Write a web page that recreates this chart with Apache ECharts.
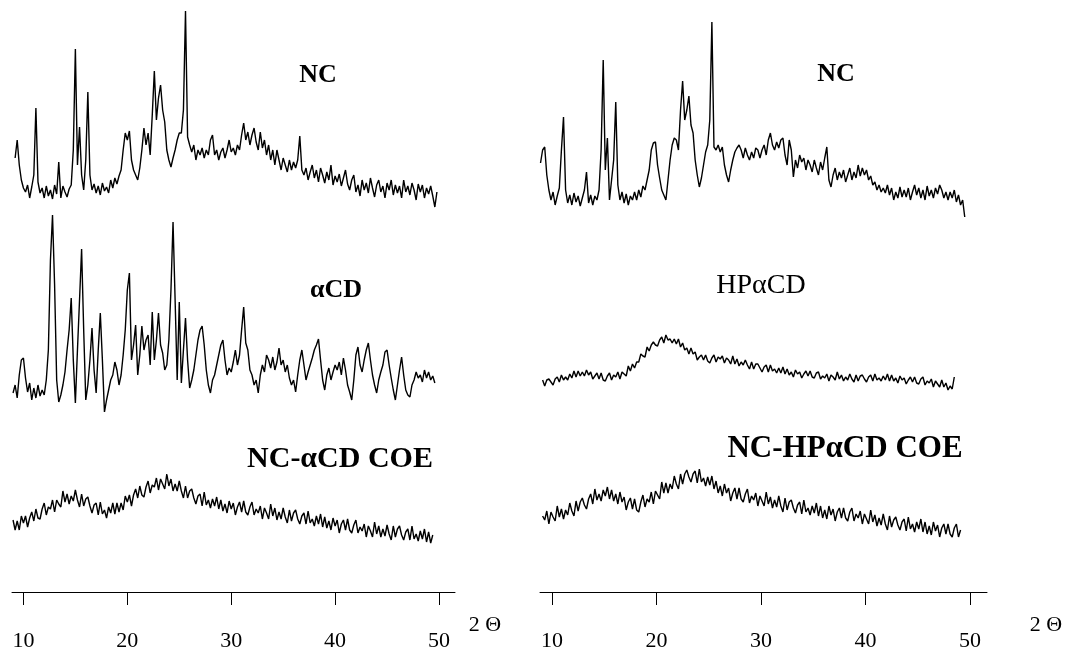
<!DOCTYPE html>
<html>
<head>
<meta charset="utf-8">
<script src="https://cdn.jsdelivr.net/npm/echarts@6/dist/echarts.min.js"></script>
<style>html,body{margin:0;padding:0;background:#fff}#c{width:1065px;height:654px}</style>
</head>
<body>
<div id="c"></div>
<script>
// ---- data (intensity in arbitrary offset units, 2θ sampled every 0.2°) ----
const STEP = 0.2;
const tickValues = [10, 20, 30, 40, 50];
const axisName = '2 Θ';
const labelNames = ['NC', 'αCD', 'NC-αCD COE', 'NC', 'HPαCD', 'NC-HPαCD COE'];

const leftNCStart = 9.2;
const leftNC = [
442,460,435,420,412, 408,415,402,413,425, 492,418,407,412,402, 414,404,410,401,415,
406,438,402,414,408, 403,411,415,450,551, 435,473,425,410,440, 508,425,410,416,407,
414,405,417,409,413, 407,420,412,422,416, 424,430,450,467,460, 469,440,430,425,420,
432,450,472,455,467, 445,485,529,480,502, 515,490,478,450,440, 433,442,450,460,467,
467,490,589,463,455, 448,455,440,450,445, 452,442,450,445,460, 465,445,450,440,448,
452,442,450,460,448, 452,445,455,450,465, 477,460,468,455,465, 472,458,450,468,452,
460,445,455,440,450, 435,450,440,430,442, 435,428,440,430,438, 432,440,464,430,425,
432,420,428,435,422, 430,418,432,425,417, 428,420,435,415,424, 418,426,414,422,430,
416,410,420,425,408, 415,404,420,410,417, 407,422,412,403,415, 420,408,414,402,417,
410,420,405,415,407, 414,402,420,408,414, 405,417,410,400,416, 408,415,402,412,406,
414,404,393,408
];

const leftACDStart = 9.0;
const leftACD = [
207,215,202,225,240, 242,222,208,217,200, 212,202,215,204,210, 205,220,250,340,385,
315,220,198,205,215, 228,250,270,302,240, 197,250,300,351,270, 200,215,240,272,230,
207,250,287,240,188, 200,210,220,225,238, 230,215,225,245,270, 310,327,240,255,275,
225,245,274,250,260, 265,235,288,240,260, 287,255,247,230,235, 260,310,378,300,220,
298,217,250,282,240, 212,220,230,245,260, 270,274,255,230,215, 207,220,225,235,245,
255,260,240,225,232, 228,238,250,235,245, 270,293,257,250,230, 225,215,220,207,225,
235,228,245,240,232, 243,230,238,252,235, 240,228,235,222,215, 220,208,225,240,250,
235,220,228,235,242, 250,255,261,240,220, 210,225,232,220,228, 235,230,238,225,242,
230,215,208,200,220, 245,253,235,228,240, 250,257,240,225,215, 207,220,228,235,248,
250,235,222,210,200, 215,230,243,225,210, 205,203,215,220,228, 222,225,218,230,222,
228,220,224,217
];

const leftCOEStart = 9.0;
const leftCOE = [
80,70,79,70,84, 77,84,73,82,88, 79,91,82,81,91, 97,85,93,91,100, 88,100,96,93,109,
98,106,96,104,99, 110,100,93,106,94, 101,103,94,87,95, 97,85,98,86,90, 82,93,87,97,86,
97,88,97,90,104, 98,105,94,105,111, 102,114,105,103,113, 119,107,115,113,122, 110,121,116,111,126,
114,121,109,116,109, 119,109,102,114,102, 109,111,102,96,104, 106,94,108,95,100, 92,101,94,103,91,
100,89,96,87,99, 91,97,85,93,98, 88,99,88,85,93, 98,85,91,87,94, 81,92,87,81,96,
84,92,80,88,81, 92,83,77,90,79, 87,90,81,76,84, 87,76,89,77,81, 74,84,76,86,73,
83,72,79,70,82, 74,80,67,76,80, 70,81,70,67,75, 80,67,73,69,76, 63,74,69,63,78,
66,74,63,71,64, 75,66,60,74,63, 71,74,65,60,68, 71,60,74,61,66, 59,69,61,71,58,
68,57,65
];

const rightNCStart = 8.9;
const rightNC = [
437,450,453,425,410, 400,408,395,404,412, 450,483,410,397,405, 395,407,398,404,394,
402,410,428,397,405, 395,404,400,410,450, 540,430,462,400,420, 440,498,415,400,408,
397,406,395,404,400, 408,400,410,403,414, 410,420,430,450,457, 458,435,422,410,405,
400,420,440,455,462, 460,450,490,519,480, 490,504,475,467,440, 425,413,422,435,448,
455,480,578,453,450, 455,448,453,435,425, 418,430,440,448,452, 455,450,442,452,445,
440,448,442,452,450, 442,450,455,445,460, 467,455,450,458,452, 460,462,445,435,460,
450,423,440,432,445, 438,442,430,440,435, 428,440,432,425,438, 430,442,453,420,413,
425,432,420,428,422, 430,418,425,432,420, 428,422,435,424,432, 425,430,420,424,415,
418,410,415,408,412, 407,415,405,412,400, 408,402,413,403,410, 403,412,400,408,415,
405,412,402,410,400, 414,404,410,402,412, 406,415,410,402,408, 400,408,402,410,398,
405,395,400,383
];

const rightHPACDStart = 9.1;
const rightHPACD = [
220,214,220,221,218, 215,221,223,218,225, 220,223,220,226,222, 229,223,229,224,228,
224,230,225,228,221, 224,227,221,227,220, 219,224,227,220,225, 223,228,221,228,226,
224,234,229,236,232, 238,238,246,244,243, 253,249,255,258,255, 254,260,263,257,265,
260,261,257,261,256, 261,253,257,250,252, 246,252,246,248,240, 243,245,240,245,239,
237,242,245,238,243, 241,244,237,242,240, 236,244,236,241,234, 238,235,240,235,231,
238,231,236,236,232, 228,233,235,228,235, 229,231,227,232,227, 233,226,231,225,228,
223,230,226,228,222, 226,229,224,229,223, 222,227,228,221,224, 222,226,219,225,223,
220,228,221,225,219, 223,220,226,221,218, 225,219,224,225,221, 218,223,225,219,226,
220,222,219,224,220, 226,219,225,219,222, 217,224,220,222,216, 220,223,218,223,217,
216,221,223,215,219, 217,221,213,219,216, 213,220,213,217,210, 214,211,223
];

const rightCOEStart = 9.1;
const rightCOE = [
84,80,89,76,88, 83,79,94,83,91, 81,90,85,97,89, 84,99,89,98,102, 95,91,101,106,96,
111,100,106,99,110, 104,113,101,110,99, 106,96,108,98,103, 90,98,102,91,101, 90,88,98,105,93,
101,98,108,96,109, 105,101,118,107,117, 107,116,111,124,116, 111,126,116,126,130, 123,118,126,129,117,
131,118,122,114,123, 115,124,111,119,107, 114,104,116,107,112, 99,107,112,101,112, 101,98,106,111,97,
104,100,107,94,104, 99,94,108,96,103, 92,100,93,104,94, 88,102,90,98,100, 92,87,95,98,86,
100,88,92,85,94, 87,97,84,94,82, 90,81,94,85,91, 79,88,92,82,92, 82,79,88,92,79,
86,82,89,76,86, 81,76,90,78,85, 74,82,75,86,76, 70,84,73,80,83, 75,70,78,81,69,
83,71,76,68,78, 71,81,68,78,66, 74,65,78,69,75, 63,72,76,66,76, 66,63,72,76,63,
70
];

// ---- build ----
function pairs(start, vals) {
  return vals.map((v, i) => [+(start + i * STEP).toFixed(2), v]);
}
const serif = 'Liberation Serif, "Times New Roman", serif';

function xAxisFor(grid, min, max) {
  return {
    type: 'value', gridIndex: grid, min: min, max: max,
    axisLine: { show: true, onZero: false, lineStyle: { color: '#000', width: 1 } },
    axisTick: { show: true, customValues: tickValues, length: 13, inside: false, lineStyle: { color: '#000', width: 1 } },
    axisLabel: { show: true, customValues: tickValues, color: '#000', fontFamily: serif, fontSize: 22, margin: 38 },
    splitLine: { show: false }
  };
}
function yAxisFor(grid) {
  return { type: 'value', gridIndex: grid, min: 8, max: 600, show: false, splitLine: { show: false } };
}
function line(name, grid, start, vals) {
  return {
    type: 'line', name: name, xAxisIndex: grid, yAxisIndex: grid,
    data: pairs(start, vals), showSymbol: false, symbol: 'none',
    lineStyle: { color: '#000', width: 1.4 }, silent: true
  };
}
function txt(x, y, s, size, bold) {
  return {
    type: 'text', x: x, y: y, silent: true,
    style: { text: s, fill: '#000', font: (bold ? 'bold ' : '') + size + 'px ' + serif, textAlign: 'center', textVerticalAlign: 'middle' }
  };
}

const chart = echarts.init(document.getElementById('c'), null, { renderer: 'canvas' });
chart.setOption({
  animation: false,
  backgroundColor: '#fff',
  grid: [
    { left: 12, top: 0, width: 443, height: 592 },
    { left: 540, top: 0, width: 447, height: 592 }
  ],
  xAxis: [xAxisFor(0, 8.9, 51.54), xAxisFor(1, 8.85, 51.63)],
  yAxis: [yAxisFor(0), yAxisFor(1)],
  series: [
    line(labelNames[0], 0, leftNCStart, leftNC),
    line(labelNames[1], 0, leftACDStart, leftACD),
    line(labelNames[2], 0, leftCOEStart, leftCOE),
    line(labelNames[3], 1, rightNCStart, rightNC),
    line(labelNames[4], 1, rightHPACDStart, rightHPACD),
    line(labelNames[5], 1, rightCOEStart, rightCOE)
  ],
  graphic: [
    txt(318, 75, labelNames[0], 26, true),
    txt(336, 290, labelNames[1], 26, true),
    txt(340, 459, labelNames[2], 30, true),
    txt(836, 74, labelNames[3], 26, true),
    txt(761, 286, labelNames[4], 28, false),
    txt(845, 449, labelNames[5], 31, true),
    txt(485, 625, axisName, 22, false),
    txt(1046, 625, axisName, 22, false)
  ]
});
</script>
</body>
</html>
